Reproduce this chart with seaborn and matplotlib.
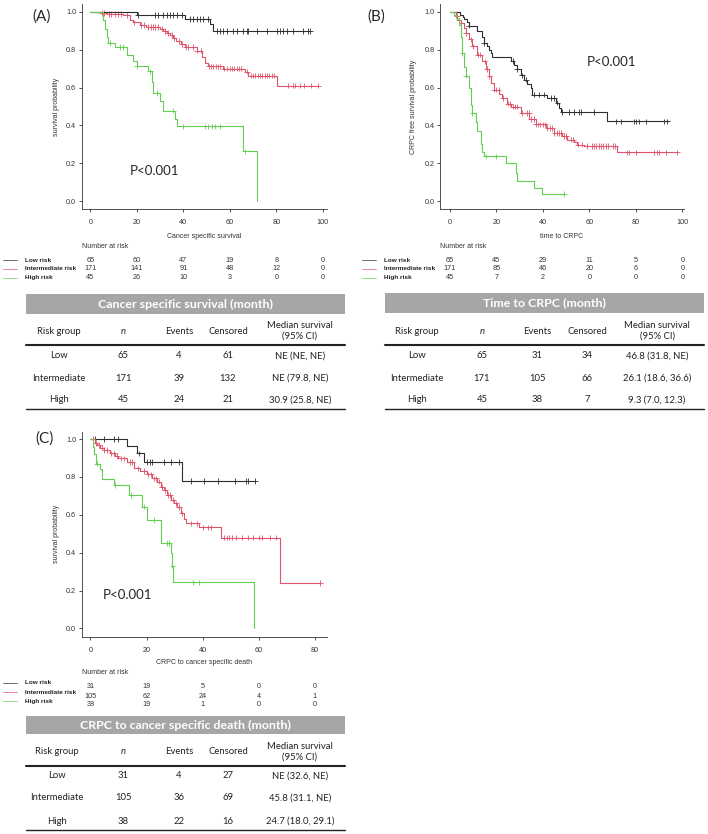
import numpy as np
import pandas as pd
import matplotlib
matplotlib.use("Agg")
import matplotlib.pyplot as plt
from matplotlib.patches import Rectangle
from matplotlib.lines import Line2D
from matplotlib.transforms import blended_transform_factory
import seaborn as sns

W, H = 708, 834
GROUPS = ["Low risk", "Intermediate risk", "High risk"]
COLORS = {"Low risk": "#2e2e2e", "Intermediate risk": "#DF536B", "High risk": "#61D04F"}

# ---------------- (A) Cancer specific survival ----------------
A_LOW_T = [20, 40.7, 51.5, 53]
A_LOW_S = [0.984, 0.963, 0.938, 0.898]
A_LOW_C = [20.5, 27.8, 29.3, 31.4, 32.9, 34.3, 35.7, 37.2, 39.3, 42.9, 44.3, 45.7, 47.2,
           48.6, 50.8, 54.4, 55.8, 57.2, 58.7, 61.5, 63, 65.9, 67.3, 68, 71.6, 75.9,
           80.2, 81.6, 83.1, 84.5, 87.4, 91.7, 93.8, 94.5]
A_INT_T = [4, 7, 14, 17, 18.5, 21.4, 24, 30, 31.4, 33, 34.3, 35.7, 37, 39, 40.7, 45.8,
           48, 49.4, 50.8, 57.2, 66.6, 68, 80.2]
A_INT_S = [0.995, 0.99, 0.985, 0.96, 0.945, 0.93, 0.92, 0.912, 0.90, 0.89, 0.878, 0.862,
           0.845, 0.83, 0.815, 0.795, 0.76, 0.73, 0.712, 0.70, 0.685, 0.663, 0.61]
A_INT_C = [5, 6, 8, 9, 10.5, 12, 13, 16, 19, 22, 23, 25, 26, 27, 28, 29, 31, 32, 33.5, 35,
           36, 38, 39.5, 41, 42, 44, 46, 47.5, 51, 52, 53, 54, 55, 56, 57.5, 59, 60, 61,
           62, 63, 64, 65, 67.5, 69, 70, 71, 72, 73, 74, 75, 76, 77, 78, 79, 85, 87, 88,
           90, 92, 95, 98]
A_HIGH_T = [5.6, 6.3, 7, 7.7, 10.6, 15.6, 18.5, 20, 25, 26.4, 27, 30, 31.4, 36.4, 37.2,
            65.9, 71.9]
A_HIGH_S = [0.955, 0.91, 0.87, 0.835, 0.815, 0.774, 0.739, 0.712, 0.686, 0.63, 0.571,
            0.53, 0.478, 0.435, 0.395, 0.263, 0.0]
A_HIGH_C = [8.5, 12.8, 14.2, 20, 25.7, 28.5, 35.7, 40, 49.4, 50.8, 52.2, 53.7, 55.8, 66.6]
A_END = [94.5, 98.1, 71.9]
A_RISK_X = [0, 20, 40, 60, 80, 100]
A_RISK_LOW = [65, 60, 47, 19, 8, 0]
A_RISK_INT = [171, 141, 91, 48, 12, 0]
A_RISK_HIGH = [45, 26, 10, 3, 0, 0]
A_TITLE = "Cancer specific survival (month)"
A_N = [65, 171, 45]
A_EVENTS = [4, 39, 24]
A_CENSORED = [61, 132, 21]
A_MEDIAN = ["NE (NE, NE)", "NE (79.8, NE)", "30.9 (25.8, NE)"]

# ---------------- (B) Time to CRPC ----------------
B_LOW_T = [4.4, 5.5, 6.2, 7.6, 8.3, 11.9, 14, 14.8, 16.2, 16.9, 17.6, 18.3, 26.2, 27.7,
           29, 30.5, 32, 33.4, 34.8, 35.5, 42, 45.6, 47, 47.7, 67.8]
B_LOW_S = [0.985, 0.975, 0.963, 0.945, 0.928, 0.898, 0.868, 0.836, 0.82, 0.80, 0.783,
           0.76, 0.742, 0.72, 0.698, 0.665, 0.642, 0.621, 0.60, 0.563, 0.545, 0.52, 0.49,
           0.471, 0.421]
B_LOW_C = [8.3, 14.8, 27, 29, 31, 32.7, 36.2, 38.4, 40.5, 43.4, 44.8, 46.3, 48.4, 51.3,
           53.4, 55.6, 56.3, 62, 71.3, 73.5, 79.2, 80, 81.4, 84.2, 92.1, 93.6]
B_INT_T = [2.6, 3.3, 4.7, 6.2, 6.9, 8.3, 9.7, 11.9, 14, 15.5, 16.9, 17.6, 19, 21.2, 22.6,
           24.8, 26.2, 30.5, 34.1, 37, 41.3, 44.8, 48.4, 50.6, 53.4, 54.9, 57.7, 72]
B_INT_S = [0.98, 0.96, 0.94, 0.915, 0.89, 0.855, 0.818, 0.774, 0.739, 0.698, 0.66, 0.624,
           0.589, 0.565, 0.545, 0.515, 0.50, 0.466, 0.435, 0.405, 0.385, 0.36, 0.345,
           0.325, 0.31, 0.298, 0.29, 0.257]
B_INT_C = [3, 5, 7, 9, 10, 12, 13, 15, 16, 17, 19, 20, 21, 23, 25, 26, 27, 28, 29, 31, 33,
           34, 35, 36, 37, 38, 39, 40, 41, 42, 43, 44, 45, 46, 47, 48, 49, 50, 52, 53, 55,
           57, 59, 61, 62, 63, 64, 65, 66, 67, 68, 70, 71, 76, 77, 80, 88, 89, 90, 93, 97.9]
B_HIGH_T = [1.9, 2.6, 4, 4.7, 5.4, 6.2, 6.9, 8.3, 9, 9.7, 11.2, 11.9, 13.3, 14, 14.8,
            24.1, 28.4, 29, 36.2, 39.8]
B_HIGH_S = [0.985, 0.97, 0.93, 0.87, 0.783, 0.71, 0.663, 0.60, 0.51, 0.466, 0.42, 0.37,
            0.30, 0.26, 0.236, 0.20, 0.148, 0.104, 0.069, 0.037]
B_HIGH_C = [5.4, 6.9, 9.7, 15.5, 19.8, 49.1]
B_END = [94.3, 97.9, 49.1]
B_RISK_X = [0, 20, 40, 60, 80, 100]
B_RISK_LOW = [65, 45, 29, 11, 5, 0]
B_RISK_INT = [171, 85, 46, 20, 6, 0]
B_RISK_HIGH = [45, 7, 2, 0, 0, 0]
B_TITLE = "Time to CRPC (month)"
B_N = [65, 171, 45]
B_EVENTS = [31, 105, 38]
B_CENSORED = [34, 66, 7]
B_MEDIAN = ["46.8 (31.8, NE)", "26.1 (18.6, 36.6)", "9.3 (7.0, 12.3)"]

# ---------------- (C) CRPC to cancer specific death ----------------
C_LOW_T = [13, 16.6, 19, 32.8]
C_LOW_S = [0.963, 0.924, 0.88, 0.778]
C_LOW_C = [1.7, 4.7, 8.3, 10, 17.2, 20.2, 21.4, 22, 26.2, 28.6, 31.6, 35.8, 40.6, 45.4,
           51.4, 55.6, 56.2, 58.6]
C_INT_T = [1.7, 2.3, 3.5, 4.7, 7, 8.9, 10, 13, 15.4, 17.8, 20.2, 22, 23.8, 25, 26.2,
           27.4, 28.6, 29.8, 31, 32.2, 33.4, 34, 38.8, 46.6, 67.5]
C_INT_S = [0.98, 0.97, 0.955, 0.942, 0.924, 0.91, 0.898, 0.88, 0.845, 0.831, 0.813, 0.792,
           0.775, 0.748, 0.73, 0.704, 0.68, 0.66, 0.64, 0.607, 0.58, 0.555, 0.533, 0.479,
           0.241]
C_INT_C = [1, 2, 3, 4, 5, 6, 7.5, 8.5, 9.5, 11, 12, 14, 15, 17, 19, 20.5, 21.5, 22.5, 23.5,
           24.5, 25.5, 26.5, 27.5, 28.5, 29.5, 30.5, 31.5, 32.5, 36, 38, 40, 42, 43, 47.5,
           48.5, 49.5, 50.5, 52, 54, 56, 58, 60, 61, 64, 66, 81.9]
C_HIGH_T = [0.8, 1.4, 2, 3.5, 4.1, 8.3, 13.7, 18.4, 20.2, 25, 28.6, 29.2, 29.6, 58.2]
C_HIGH_S = [0.96, 0.92, 0.871, 0.84, 0.787, 0.757, 0.704, 0.643, 0.572, 0.452, 0.40,
            0.331, 0.243, 0.0]
C_HIGH_C = [2.3, 8.9, 14.3, 19, 22.6, 27.4, 28, 29.2, 36.4, 38.8]
C_END = [58.6, 81.9, 58.2]
C_RISK_X = [0, 20, 40, 60, 80]
C_RISK_LOW = [31, 19, 5, 0, 0]
C_RISK_INT = [105, 62, 24, 4, 1]
C_RISK_HIGH = [38, 19, 1, 0, 0]
C_TITLE = "CRPC to cancer specific death (month)"
C_N = [31, 105, 38]
C_EVENTS = [4, 36, 22]
C_CENSORED = [27, 69, 16]
C_MEDIAN = ["NE (32.6, NE)", "45.8 (31.1, NE)", "24.7 (18.0, 29.1)"]

TABLE_ROWS = ["Low", "Intermediate", "High"]
TABLE_FONT = ["Lato", "DejaVu Sans"]

sns.set_style("ticks")
plt.rcParams["font.family"] = ["Liberation Sans", "DejaVu Sans"]


def fx(px):
    return px / W


def fy(px):
    return 1 - px / H


def step_frames(times, survs, censors, ends):
    lines, marks = [], []
    for g, t, s, c, end in zip(GROUPS, times, survs, censors, ends):
        tt = [0] + list(t) + [end]
        ss = [1.0] + list(s) + [s[-1]]
        lines.append(pd.DataFrame({"t": tt, "s": ss, "group": g}))
        idx = np.searchsorted(np.array(t), np.array(c), side="right") - 1
        sc = [1.0 if i < 0 else s[i] for i in idx]
        marks.append(pd.DataFrame({"t": c, "s": sc, "group": g}))
    return pd.concat(lines, ignore_index=True), pd.concat(marks, ignore_index=True)


def km_panel(fig, p):
    x0, y0, x1, y1 = p["box"]
    ax = fig.add_axes([fx(x0), fy(y1), fx(x1) - fx(x0), (y1 - y0) / H])
    lines, marks = step_frames(p["T"], p["S"], p["C"], p["end"])
    sns.lineplot(data=lines, x="t", y="s", hue="group", palette=COLORS,
                 estimator=None, sort=False, drawstyle="steps-post",
                 linewidth=0.8, legend=False, ax=ax)
    sns.scatterplot(data=marks, x="t", y="s", hue="group", palette=COLORS,
                    marker="+", s=16, linewidth=0.6, legend=False, ax=ax)
    ax.set_xlim(*p["xlim"])
    ax.set_ylim(p["ylim"])
    ax.set_xticks(p["risk_x"])
    ax.set_yticks([0, 0.2, 0.4, 0.6, 0.8, 1.0])
    ax.set_yticklabels(["0.0", "0.2", "0.4", "0.6", "0.8", "1.0"])
    ax.tick_params(axis="both", labelsize=5.2, width=0.6, colors="#333333")
    ax.tick_params(axis="x", length=2.5, pad=5)
    ax.tick_params(axis="y", length=2.5, pad=1.5)
    for side in ["top", "right"]:
        ax.spines[side].set_visible(False)
    for side in ["left", "bottom"]:
        ax.spines[side].set_linewidth(0.6)
        ax.spines[side].set_color("#333333")
    ax.set_xlabel(p["xlabel"], fontsize=5, color="#333333", va="center")
    ax.xaxis.set_label_coords(0.5, (y1 - p["xlabel_y"]) / (y1 - y0))
    ax.set_ylabel(p["ylabel"], fontsize=5, color="#333333", va="center")
    ax.yaxis.set_label_coords((p["ylabel_x"] - x0) / (x1 - x0), 0.5)

    # panel letter and p value
    fig.text(fx(p["letter"][0]), fy(p["letter"][1]), p["key"], fontsize=11,
             family=TABLE_FONT, ha="left", va="center")
    fig.text(fx(p["pval"][0]), fy(p["pval"][1]), "P<0.001", fontsize=9.5,
             family=TABLE_FONT, ha="left", va="center")

    # number at risk
    tr = blended_transform_factory(ax.transData, fig.transFigure)
    ry = p["risk_y"]
    fig.text(fx(x0), fy(ry[0]), "Number at risk", fontsize=5, color="#333333",
             ha="left", va="center")
    for i, (g, counts) in enumerate(zip(GROUPS, p["risk"])):
        yy = fy(ry[i + 1])
        ly = fy(p["leg_y"][i])
        lx0, lx1, tx = p["legend_x"]
        fig.add_artist(Line2D([fx(lx0), fx(lx1)], [ly, ly], color=COLORS[g],
                              linewidth=0.6, alpha=0.8, transform=fig.transFigure))
        fig.text(fx(tx), ly, g, fontsize=4.6, fontweight="bold", color="#222222",
                 ha="left", va="center")
        for xv, n in zip(p["risk_x"], counts):
            ax.text(xv, yy, str(n), transform=tr, fontsize=5.2, color="#333333",
                    ha="center", va="center")
    return ax


def summary_table(fig, p):
    tl, tr_ = p["table_x"]
    ty = p["table_y"]
    bar0, bar1 = ty["bar"]
    fig.add_artist(Rectangle((fx(tl), fy(bar1)), fx(tr_) - fx(tl), (bar1 - bar0) / H,
                             facecolor="#a6a6a6", edgecolor="none",
                             transform=fig.transFigure))
    fig.text(fx((tl + tr_) / 2), fy((bar0 + bar1) / 2), p["title"], fontsize=8.9,
             fontweight="bold", color="white", family=TABLE_FONT,
             ha="center", va="center")
    cols = p["table_cols"]
    heads = ["Risk group", "n", "Events", "Censored", "Median survival\n(95% CI)"]
    for cx, h in zip(cols, heads):
        fig.text(fx(cx), fy(ty["head"]), h, fontsize=6.8, family=TABLE_FONT,
                 color="#222222", ha="center", va="center", linespacing=1.25,
                 style="italic" if h == "n" else "normal")
    fig.add_artist(Line2D([fx(tl), fx(tr_)], [fy(ty["thick"])] * 2, color="#222222",
                          linewidth=1.5, transform=fig.transFigure))
    fig.add_artist(Line2D([fx(tl), fx(tr_)], [fy(ty["bottom"])] * 2, color="#222222",
                          linewidth=1.0, transform=fig.transFigure))
    for i, name in enumerate(TABLE_ROWS):
        vals = [name, str(p["n"][i]), str(p["events"][i]), str(p["censored"][i]),
                p["median"][i]]
        for cx, v in zip(cols, vals):
            fig.text(fx(cx), fy(ty["rows"][i]), v, fontsize=6.8, family=TABLE_FONT,
                     color="#222222", ha="center", va="center")


PANELS = [
    dict(key="(A)", box=(81.7, 4, 326.7, 209), xlim=(-3.7, 101.7), ylim=(-0.042, 1.042),
         T=[A_LOW_T, A_INT_T, A_HIGH_T], S=[A_LOW_S, A_INT_S, A_HIGH_S],
         C=[A_LOW_C, A_INT_C, A_HIGH_C], end=A_END,
         risk_x=A_RISK_X, risk=[A_RISK_LOW, A_RISK_INT, A_RISK_HIGH],
         xlabel="Cancer specific survival", ylabel="survival probability",
         xlabel_y=237, ylabel_x=57, letter=(32, 17), pval=(130, 171),
         risk_y=(246, 260, 269, 278), leg_y=(260, 269, 278), legend_x=(3, 17, 25),
         title=A_TITLE, n=A_N, events=A_EVENTS, censored=A_CENSORED, median=A_MEDIAN,
         table_x=(26, 345), table_cols=(59, 123, 179, 228, 300),
         table_y=dict(bar=(294, 314), head=331, thick=345, rows=(356, 378, 400),
                      bottom=409)),
    dict(key="(B)", box=(440, 4, 684, 209), xlim=(-4.2, 100.7), ylim=(-0.042, 1.042),
         T=[B_LOW_T, B_INT_T, B_HIGH_T], S=[B_LOW_S, B_INT_S, B_HIGH_S],
         C=[B_LOW_C, B_INT_C, B_HIGH_C], end=B_END,
         risk_x=B_RISK_X, risk=[B_RISK_LOW, B_RISK_INT, B_RISK_HIGH],
         xlabel="time to CRPC", ylabel="CRPC free survival probability",
         xlabel_y=237, ylabel_x=413, letter=(367, 17), pval=(587, 62),
         risk_y=(246, 260, 269, 278), leg_y=(260, 269, 278), legend_x=(362, 376, 384),
         title=B_TITLE, n=B_N, events=B_EVENTS, censored=B_CENSORED, median=B_MEDIAN,
         table_x=(385, 704), table_cols=(417, 482, 537, 587, 657),
         table_y=dict(bar=(293, 313), head=331, thick=345, rows=(356, 378, 400),
                      bottom=409)),
    dict(key="(C)", box=(81.7, 431.7, 326.7, 636.7), xlim=(-3.1, 84.2),
         ylim=(-0.044, 1.039),
         T=[C_LOW_T, C_INT_T, C_HIGH_T], S=[C_LOW_S, C_INT_S, C_HIGH_S],
         C=[C_LOW_C, C_INT_C, C_HIGH_C], end=C_END,
         risk_x=C_RISK_X, risk=[C_RISK_LOW, C_RISK_INT, C_RISK_HIGH],
         xlabel="CRPC to cancer specific death", ylabel="survival probability",
         xlabel_y=663, ylabel_x=57, letter=(35, 439), pval=(103, 595),
         risk_y=(673, 687, 696, 705), leg_y=(683, 692, 701), legend_x=(3, 17, 25),
         title=C_TITLE, n=C_N, events=C_EVENTS, censored=C_CENSORED, median=C_MEDIAN,
         table_x=(26, 345), table_cols=(57, 123, 179, 228, 300),
         table_y=dict(bar=(716, 734), head=752, thick=766, rows=(776, 798, 821),
                      bottom=830)),
]

fig = plt.figure(figsize=(W / 100, H / 100), dpi=100)
fig.patch.set_facecolor("white")
for p in PANELS:
    km_panel(fig, p)
    summary_table(fig, p)

fig.savefig("out.png", dpi=100, facecolor="white")
